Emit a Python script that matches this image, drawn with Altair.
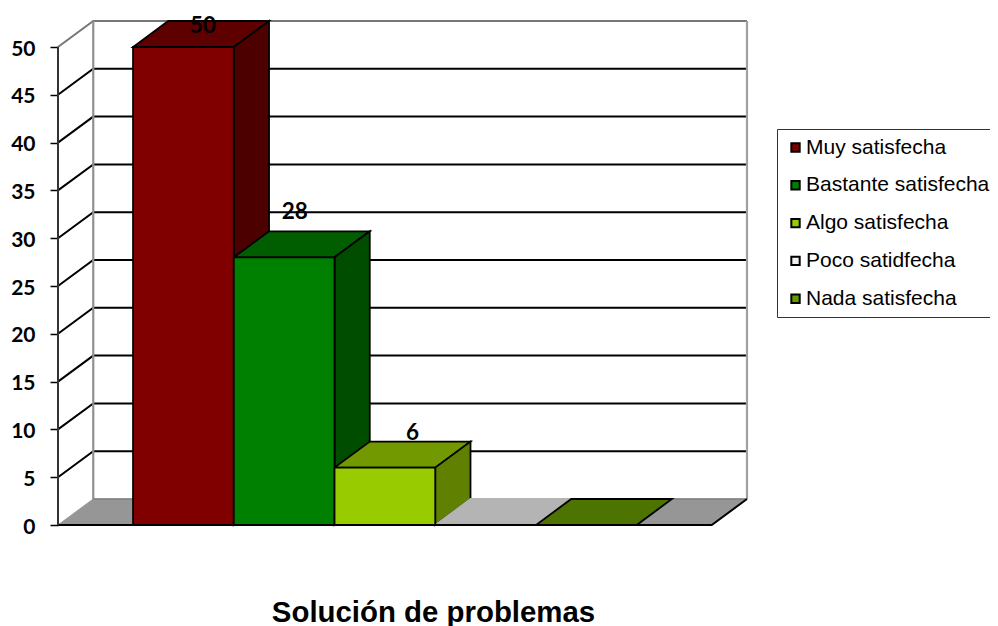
import altair as alt
import pandas as pd

categories = ["Muy satisfecha", "Bastante satisfecha", "Algo satisfecha", "Poco satidfecha", "Nada satisfecha"]
values = [50, 28, 6, 0, 0]
front_colors = ["#800000", "#008000", "#99cc00", "#f0f0f0", "#669900"]
top_colors = ["#5e0000", "#005e00", "#739900", "#b4b4b4", "#4d7300"]
side_colors = ["#4d0000", "#004d00", "#5f8000", "#b4b4b4", "#4d7300"]
edge_colors = ["#000000", "#000000", "#000000", "#b4b4b4", "#000000"]
ticks = [0, 5, 10, 15, 20, 25, 30, 35, 40, 45, 50]
label_nudge_x = [2, -7, 10]
label_nudge_y = [5, -19, -9]

GAP, DX, DY = 0.745, 0.35, 2.72
XMAX = GAP * 2 + len(categories) + DX
YMAX = 50 + DY
x_scale = alt.Scale(domain=[0, XMAX], nice=False, zero=False)
y_scale = alt.Scale(domain=[0, YMAX], nice=False, zero=False)
x_axis = alt.Axis(
    title="Solución de problemas", labels=False, ticks=False, domain=False, grid=False,
    titleFont="Liberation Sans", titleFontSize=29.4, titleFontWeight="bold", titleColor="#000000",
    titleX=375, titleY=73, titleAlign="center")
y_axis = alt.Axis(
    title=None, values=ticks, domain=False, grid=False, tickColor="#000000", tickSize=8, tickWidth=1.5,
    labelPadding=15, labelOffset=2, labelFont="Lato", labelFontSize=21, labelFontWeight="bold", labelColor="#000000")
N = lambda f: alt.X(f, type="quantitative", scale=x_scale, axis=x_axis)
M = lambda f: alt.Y(f, type="quantitative", scale=y_scale, axis=y_axis)


def poly(points, fill, stroke="#000000", sw=1.8):
    df = pd.DataFrame(points, columns=["x", "y"])
    df["o"] = range(len(df))
    return alt.Chart(df).mark_line(fill=fill, stroke=stroke, strokeWidth=sw, interpolate="linear-closed").encode(
        x=N("x"), y=M("y"), order=alt.Order("o:Q"))


def segs(rows, color, sw):
    df = pd.DataFrame(rows, columns=["s", "x", "y"])
    return alt.Chart(df).mark_line(color=color, strokeWidth=sw).encode(
        x=N("x"), y=M("y"), detail="s:N")


right = GAP * 2 + len(categories)

layers = []
# Floor
layers.append(poly([[0, 0], [right, 0], [right + DX, DY], [DX, DY]], "#969696", "#969696", 1))
# Walls
wall_lines = []
for t in ticks[1:-1]:
    wall_lines += [[f"d{t}", 0, t], [f"d{t}", DX, t + DY], [f"d{t}", XMAX, t + DY]]
layers.append(segs(wall_lines, "#000000", 2))
layers.append(segs([["l", 0, 0], ["l", 0, 50], ["l", DX, 50 + DY], ["l", XMAX, 50 + DY]], "#777777", 2))
layers.append(segs([["b", DX, DY], ["b", DX, 50 + DY]], "#909090", 2.2))
layers.append(segs([["r", XMAX, DY], ["r", XMAX, 50 + DY]], "#a0a0a0", 2.2))
layers.append(segs([["f", DX, DY], ["f", XMAX, DY]], "#808080", 1.5))

# Bars: top and side faces drawn from the values
for i, v in enumerate(values):
    x0, x1 = GAP + i, GAP + i + 1
    layers.append(poly([[x0, v], [x1, v], [x1 + DX, v + DY], [x0 + DX, v + DY]], top_colors[i], edge_colors[i]))
    if v > 0:
        layers.append(poly([[x1, 0], [x1 + DX, DY], [x1 + DX, v + DY], [x1, v]], side_colors[i]))

# Front faces carry the legend
bars = pd.DataFrame({
    "cat": categories, "v": values,
    "x0": [GAP + i for i in range(len(categories))],
    "x1": [GAP + i + 1 for i in range(len(categories))],
})
front = alt.Chart(bars).mark_bar(stroke="#000000", strokeWidth=1.8).encode(
    x=N("x0"), x2="x1:Q", y=M("v"), y2=alt.datum(0),
    color=alt.Color("cat:N", sort=categories,
                    scale=alt.Scale(domain=categories, range=front_colors),
                    legend=alt.Legend(
                        title=None, orient="none", legendX=719, legendY=108,
                        symbolType="square", symbolSize=70, symbolStrokeColor="#000000", symbolStrokeWidth=2,
                        labelFont="Liberation Sans", labelFontSize=21, labelColor="#000000", labelOffset=0,
                        rowPadding=15.8, padding=8, fillColor="#ffffff", strokeColor="#333333",
                        labelLimit=300, symbolOpacity=1)),
)
layers.append(front)

# Outer base lines
layers.append(segs([["a", 0, 0], ["a", right, 0], ["a", right + DX, DY]], "#000000", 2))
layers.append(segs([["v", 0, 0], ["v", 0, 50]], "#333333", 2))

# Value labels
for i, v in enumerate(values[:3]):
    d = pd.DataFrame({"x": [GAP + i + 0.5 + DX / 2], "y": [v + DY], "t": [str(v)]})
    layers.append(alt.Chart(d).mark_text(
        font="Lato", fontSize=22.5, fontWeight="bold", color="#000000", baseline="middle",
        dx=label_nudge_x[i], dy=label_nudge_y[i]).encode(x=N("x"), y=M("y"), text="t:N"))

chart = alt.layer(*layers).properties(
    width=689, height=504,
    autosize=alt.AutoSizeParams(type="none"),
    padding={"left": 50, "top": 13, "right": 243, "bottom": 101},
).configure_view(stroke=None)

chart.save("out.html", embed_options={"renderer": "svg", "actions": False})
